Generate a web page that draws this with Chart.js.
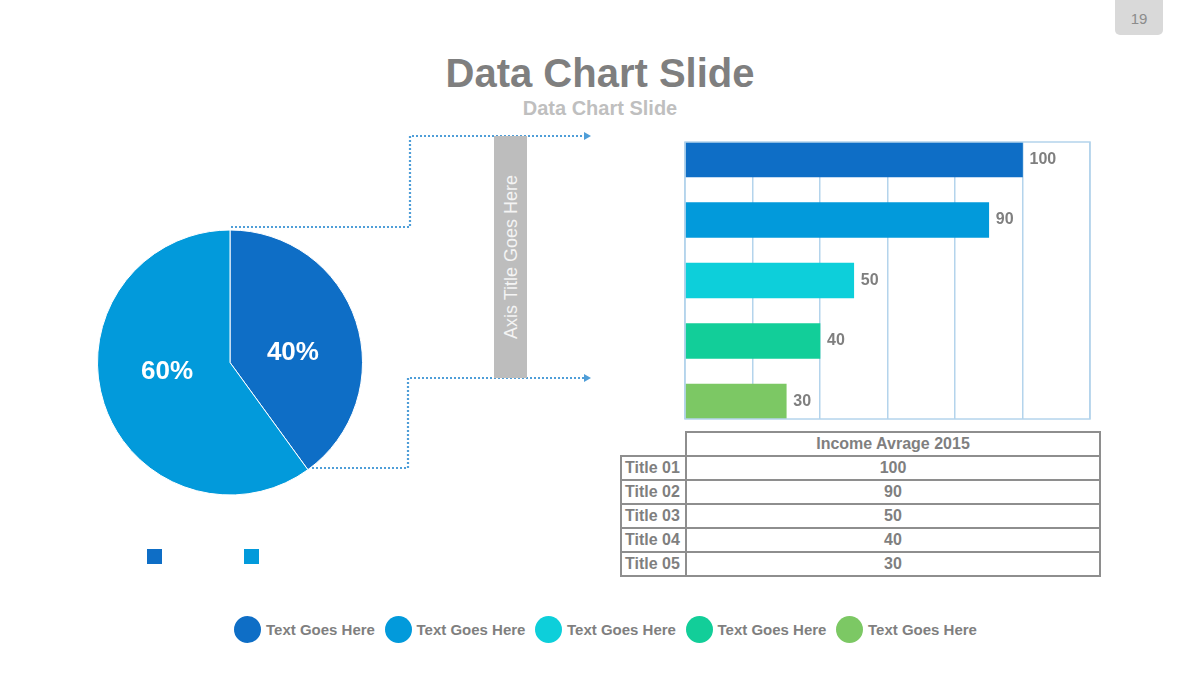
<!DOCTYPE html>
<html>
<head>
<meta charset="utf-8">
<script src="https://cdn.jsdelivr.net/npm/chart.js@4/dist/chart.umd.min.js"></script>
<style>
  html, body { margin:0; padding:0; background:#fff; }
  body { width:1200px; height:680px; position:relative; overflow:hidden; font-family:"Liberation Sans", Arial, sans-serif; }
  .abs { position:absolute; }
  #pageNum { left:1115px; top:0; width:48px; height:35px; background:#D9D9D9; border-radius:0 0 5px 5px; color:#8C8C8C; font-size:15px; text-align:center; line-height:37px; }
  #title { left:0; width:1200px; top:48px; text-align:center; font-weight:bold; font-size:40px; color:#7F7F7F; line-height:50px; }
  #subtitle { left:0; width:1200px; top:96px; text-align:center; font-weight:bold; font-size:20px; color:#BFBFBF; line-height:24px; }
  #axisBox { left:494px; top:136px; width:33px; height:242px; background:#BDBDBD; }
  #axisBox span { position:absolute; left:50%; top:50%; transform:translate(-50%,-50%) rotate(-90deg); white-space:nowrap; color:#F4F4F4; font-size:18px; }
  table { position:absolute; left:620px; top:431px; border-collapse:collapse; font-weight:bold; font-size:16px; color:#7F7F7F; }
  td { border:2px solid #8E8E8E; height:22px; padding:0; line-height:22px; text-align:center; }
  td.lab { text-align:left; padding-left:3px; width:60px; }
  td.blank { border-top:none; border-left:none; }
  .sq { width:15px; height:15px; top:549px; }
  .leg { top:616px; height:26px; display:flex; align-items:center; font-weight:bold; font-size:15px; color:#7F7F7F; }
  .leg i { display:inline-block; width:27px; height:27px; border-radius:50%; margin-right:5px; }
</style>
</head>
<body>
<div id="pageNum" class="abs">19</div>
<div id="title" class="abs">Data Chart Slide</div>
<div id="subtitle" class="abs">Data Chart Slide</div>

<svg class="abs" style="left:0;top:0" width="1200" height="680">
  <g fill="none" stroke="#4F9ED8" stroke-width="2.2" stroke-dasharray="2 2">
    <polyline points="231,227 410,227 410,136 585,136"/>
    <polyline points="308,468 408,468 408,378 585,378"/>
  </g>
  <polygon points="584,132 591,136 584,140" fill="#4F9ED8"/>
  <polygon points="584,374 591,378 584,382" fill="#4F9ED8"/>
</svg>
<div id="axisBox" class="abs"><span>Axis Title Goes Here</span></div>

<canvas id="pie" class="abs" style="left:97px;top:229px" width="266" height="267"></canvas>
<canvas id="bar" class="abs" style="left:680px;top:137px" width="415" height="287"></canvas>

<div id="pieLegend"></div>
<div id="table"></div>
<div id="legend"></div>

<script>
// ---- data ----
const pieLabels = ['Part A', 'Part B'];
const pieValues = [40, 60];
const pieColors = ['#0E6EC6', '#029ADB'];

const barCategories = ['Title 01', 'Title 02', 'Title 03', 'Title 04', 'Title 05'];
const barValues = [100, 90, 50, 40, 30];
const barColors = ['#0E6EC6', '#029ADB', '#0DCFDA', '#12CE99', '#7CC864'];
const xAxisMax = 120;
const xAxisStep = 20;

const tableHeader = 'Income Avrage 2015';
const legendLabels = ['Text Goes Here', 'Text Goes Here', 'Text Goes Here', 'Text Goes Here', 'Text Goes Here'];

// ---- pie ----
const pieLabelPlugin = {
  id: 'pieLabels',
  afterDatasetsDraw(chart) {
    const ctx = chart.ctx;
    const meta = chart.getDatasetMeta(0);
    const total = pieValues.reduce((a, b) => a + b, 0);
    ctx.save();
    ctx.fillStyle = '#FFFFFF';
    ctx.font = 'bold 26px "Liberation Sans", Arial, sans-serif';
    ctx.textAlign = 'center';
    ctx.textBaseline = 'middle';
    meta.data.forEach((arc, i) => {
      const p = arc.getProps(['x', 'y', 'startAngle', 'endAngle', 'outerRadius'], true);
      const mid = (p.startAngle + p.endAngle) / 2 + 9.5 * Math.PI / 180;
      const r = p.outerRadius * 0.48;
      ctx.fillText(Math.round(pieValues[i] / total * 100) + '%', p.x + Math.cos(mid) * r, p.y + Math.sin(mid) * r);
    });
    ctx.restore();
  }
};

new Chart(document.getElementById('pie'), {
  type: 'pie',
  data: { labels: pieLabels, datasets: [{ data: pieValues, backgroundColor: pieColors, borderColor: '#FFFFFF', borderWidth: 1 }] },
  options: {
    responsive: false, animation: false,
    layout: { padding: 0 },
    plugins: { legend: { display: false }, tooltip: { enabled: false } }
  },
  plugins: [pieLabelPlugin]
});

// pie legend squares
const pl = document.getElementById('pieLegend');
pieColors.forEach((c, i) => {
  const d = document.createElement('div');
  d.className = 'abs sq';
  d.style.left = (147 + i * 97) + 'px';
  d.style.background = c;
  pl.appendChild(d);
});

// ---- bar ----
const barFramePlugin = {
  id: 'barFrame',
  afterDraw(chart) {
    const { ctx, chartArea: a } = chart;
    ctx.save();
    ctx.strokeStyle = '#B4D4EC';
    ctx.lineWidth = 1.5;
    ctx.strokeRect(a.left, a.top, a.right - a.left, a.bottom - a.top);
    ctx.restore();
  }
};
const barLabelPlugin = {
  id: 'barLabels',
  afterDatasetsDraw(chart) {
    const ctx = chart.ctx;
    const meta = chart.getDatasetMeta(0);
    ctx.save();
    ctx.fillStyle = '#7F7F7F';
    ctx.font = 'bold 16px "Liberation Sans", Arial, sans-serif';
    ctx.textAlign = 'left';
    ctx.textBaseline = 'middle';
    meta.data.forEach((bar, i) => {
      ctx.fillText(String(barValues[i]), bar.x + 7, bar.y);
    });
    ctx.restore();
  }
};

new Chart(document.getElementById('bar'), {
  type: 'bar',
  data: {
    datasets: [{
      label: tableHeader,
      data: barValues.map((v, i) => ({ x: v, y: i })),
      backgroundColor: barColors,
      borderWidth: 0,
      barThickness: 35
    }]
  },
  options: {
    indexAxis: 'y',
    responsive: false, animation: false,
    layout: { padding: 5 },
    scales: {
      x: {
        type: 'linear', min: 0, max: xAxisMax,
        ticks: { display: false, stepSize: xAxisStep },
        grid: { color: '#B4D4EC', lineWidth: 1.5, drawTicks: false },
        border: { display: false }
      },
      y: {
        type: 'linear', min: -0.2893, max: barCategories.length - 1 + 0.2893, reverse: true,
        offset: false,
        display: false
      }
    },
    plugins: { legend: { display: false }, tooltip: { enabled: false } }
  },
  plugins: [barFramePlugin, barLabelPlugin]
});

// ---- table ----
let html = '<table><tr><td class="lab blank"></td><td style="width:412px">' + tableHeader + '</td></tr>';
barCategories.forEach((c, i) => {
  html += '<tr><td class="lab">' + c + '</td><td>' + barValues[i] + '</td></tr>';
});
html += '</table>';
document.getElementById('table').innerHTML = html;

// ---- bottom legend ----
const lg = document.getElementById('legend');
legendLabels.forEach((t, i) => {
  const d = document.createElement('div');
  d.className = 'abs leg';
  d.style.left = (234 + i * 150.5) + 'px';
  d.innerHTML = '<i style="background:' + barColors[i] + '"></i>' + t;
  lg.appendChild(d);
});
</script>
</body>
</html>
